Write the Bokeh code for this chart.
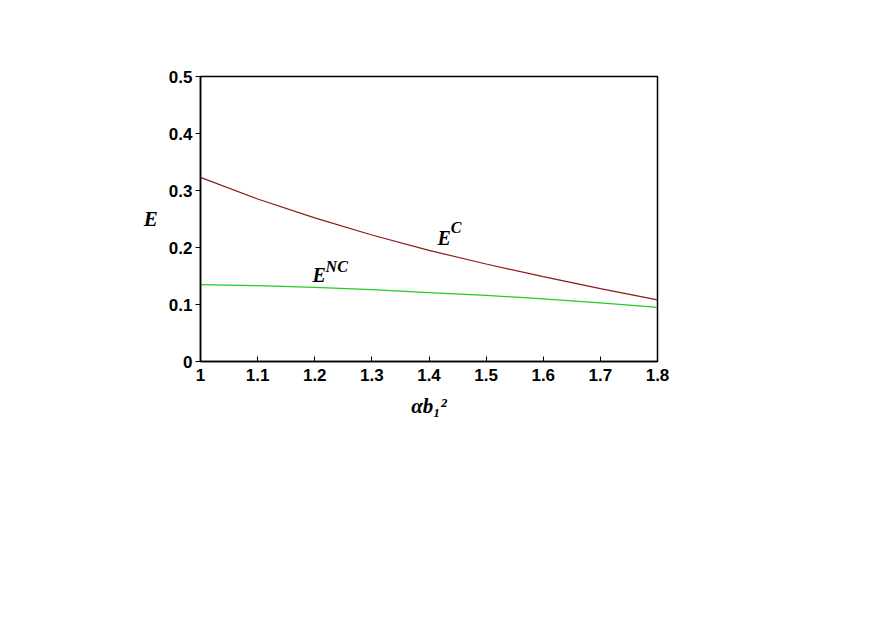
from bokeh.plotting import figure
from bokeh.models import Range1d
from bokeh.embed import file_html
from bokeh.resources import INLINE
from bokeh.core.properties import value

# data
x_vals = [1.0, 1.1, 1.2, 1.3, 1.4, 1.5, 1.6, 1.7, 1.8]
e_c = [0.323, 0.285, 0.252, 0.222, 0.195, 0.171, 0.149, 0.128, 0.108]
e_nc = [0.135, 0.133, 0.130, 0.126, 0.121, 0.116, 0.110, 0.103, 0.095]
x_ticks = [1, 1.1, 1.2, 1.3, 1.4, 1.5, 1.6, 1.7, 1.8]
y_ticks = [0, 0.1, 0.2, 0.3, 0.4, 0.5]
label_main = ["E", "E"]
label_sup = ["C", "NC"]
label_x = [1.415, 1.196]
label_y = [0.217, 0.152]
sup_x = [1.438, 1.219]
sup_y = [0.2346, 0.166]

p = figure(width=857, height=610, output_backend="svg", toolbar_location=None,
           x_range=Range1d(1.0, 1.8), y_range=Range1d(0, 0.5),
           min_border_left=200, min_border_right=200, min_border_top=76, min_border_bottom=249)
p.background_fill_color = "white"
p.border_fill_color = "white"
p.outline_line_color = "black"
p.outline_line_width = 1.5
p.grid.visible = False

p.line(x_vals, e_c, line_color="#8b1a1a", line_width=1.2)
p.line(x_vals, e_nc, line_color="#22cc22", line_width=1.2)

p.text(x=label_x, y=label_y, text=label_main, text_font=value("Liberation Serif"),
       text_font_style="bold italic", text_font_size="20px", text_baseline="alphabetic",
       text_color="black")
p.text(x=sup_x, y=sup_y, text=label_sup, text_font=value("Liberation Serif"),
       text_font_style="bold italic", text_font_size="16px", text_baseline="alphabetic",
       text_color="black")

for ax in (p.xaxis[0], p.yaxis[0]):
    ax.axis_line_color = "black"
    ax.axis_line_width = 1.5
    ax.major_label_text_font = "Liberation Sans"
    ax.major_label_text_font_style = "bold"
    ax.major_label_text_font_size = "17px"
    ax.major_label_text_color = "black"
    ax.major_tick_line_color = "black"
    ax.minor_tick_line_color = "black"
    ax.axis_label_text_font = "Liberation Serif"
    ax.axis_label_text_font_style = "bold italic"
    ax.axis_label_text_font_size = "21px"
    ax.axis_label_text_color = "black"

p.xaxis.ticker = x_ticks
p.xaxis[0].ticker.num_minor_ticks = 5
p.yaxis.ticker = y_ticks
p.yaxis[0].ticker.num_minor_ticks = 5
p.xaxis.major_label_overrides = {1: "1"}
p.yaxis.major_label_overrides = {0: "0"}

p.xaxis.major_tick_in = 5
p.xaxis.major_tick_out = 0
p.xaxis.minor_tick_in = 3
p.xaxis.minor_tick_out = 0
p.xaxis.major_label_standoff = 7
p.xaxis.axis_label = "αb₁²"
p.xaxis.axis_label_standoff = 10

p.yaxis.major_tick_in = 0
p.yaxis.major_tick_out = 5
p.yaxis.minor_tick_in = 0
p.yaxis.minor_tick_out = 3
p.yaxis.major_label_standoff = 3
p.yaxis.axis_label = "E"
p.yaxis.axis_label_orientation = "horizontal"
p.yaxis.axis_label_standoff = 8

open("out.html", "w").write(file_html(p, INLINE))
